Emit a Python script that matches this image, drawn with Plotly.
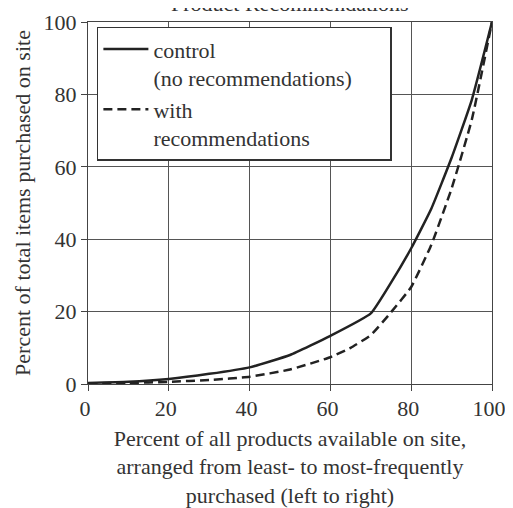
import plotly.graph_objects as go

x_control = [0, 10, 20, 30, 40, 50, 60, 70, 75, 80, 85, 90, 95, 100]
y_control = [0.3, 0.6, 1.4, 2.8, 4.6, 8.0, 13.3, 19.5, 28.0, 37.5, 48.5, 62.5, 78.5, 100]

x_recs = [0, 10, 20, 30, 40, 50, 60, 65, 70, 75, 80, 85, 90, 95, 100]
y_recs = [0.2, 0.3, 0.6, 1.1, 2.0, 4.0, 7.4, 10.0, 13.5, 19.8, 26.8, 38.5, 54.0, 73.0, 100]

tick_vals = [0, 20, 40, 60, 80, 100]

FONT = "Liberation Serif, Times New Roman, serif"
INK = "#222222"
TXT = "#333333"
PAD = "\u00a0" * 6

fig = go.Figure()
fig.add_trace(go.Scatter(x=x_control, y=y_control, mode="lines",
                         name="control<br>(no recommendations)" + PAD,
                         line=dict(color=INK, width=2.5, shape="spline", smoothing=0.4)))
fig.add_trace(go.Scatter(x=x_recs, y=y_recs, mode="lines",
                         name="with<br>recommendations",
                         line=dict(color=INK, width=2.5, dash="9px,5px", shape="spline", smoothing=0.4)))

axis_common = dict(
    range=[0, 100], tickvals=tick_vals, showgrid=True, gridcolor="#555555", gridwidth=1,
    showline=True, linecolor="#444444", linewidth=1.2, mirror=True,
    ticks="outside", ticklen=6, tickcolor="#444444", zeroline=False,
    tickfont=dict(family=FONT, size=22, color=TXT), automargin=False,
    ticklabeloverflow="allow",
)

# page body adds an 8px margin at top-left, so the figure is 8px smaller than the window
fig.update_layout(
    width=505, height=500,
    margin=dict(l=80, r=21, t=14, b=124),
    paper_bgcolor="white", plot_bgcolor="white",
    font=dict(family=FONT, size=22, color=TXT),
    showlegend=True,
    legend=dict(x=0.022, y=0.987, xanchor="left", yanchor="top",
                bgcolor="white", bordercolor="#333333", borderwidth=1.5,
                font=dict(family=FONT, size=22, color=TXT),
                valign="top", itemwidth=45, tracegroupgap=0),
    xaxis=dict(axis_common, ticklabelstandoff=-2, ticklabelshift=-3,
               title=dict(text="Percent of all products available on site,<br>arranged from least- to most-frequently<br>purchased (left to right)",
                          font=dict(family=FONT, size=22, color=TXT), standoff=16)),
    yaxis=dict(axis_common,
               title=dict(text="Percent of total items purchased on site",
                          font=dict(family=FONT, size=22, color=TXT), standoff=6)),
    annotations=[dict(text="Product Recommendations", xref="paper", yref="paper",
                      x=0.5, y=1, xanchor="center", yanchor="bottom", yshift=4,
                      showarrow=False, font=dict(family=FONT, size=22, color=TXT))],
)

fig.write_html("out.html")
